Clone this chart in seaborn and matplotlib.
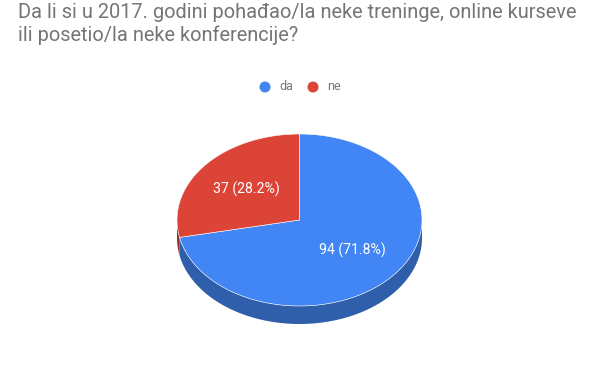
import numpy as np
import matplotlib
matplotlib.use("Agg")
import matplotlib.pyplot as plt
import seaborn as sns
from matplotlib.patches import Polygon, Circle

# Data
categories = ["da", "ne"]
counts = [94, 37]
title = "Da li si u 2017. godini pohađao/la neke treninge, online kurseve\nili posetio/la neke konferencije?"

top_colors = ["#4285f4", "#db4437"]
side_colors = ["#2f5eab", "#9c2f24"]

sns.set_theme(style="white")
plt.rcParams["font.family"] = ["Roboto", "DejaVu Sans"]

fig = plt.figure(figsize=(6, 3.71), dpi=100)
ax = fig.add_axes([0, 0, 1, 1])
ax.set_xlim(0, 600)
ax.set_ylim(371, 0)
ax.axis("off")

# pie geometry (pixels)
cx, cy = 299.5, 220
rx, ry = 122.5, 86
depth = 18

total = sum(counts)
fracs = np.array(counts) / total
bounds = np.concatenate([[0], np.cumsum(fracs) * 360])


def edge(a0, a1, n=200):
    t = np.radians(np.linspace(a0, a1, n))
    return cx + rx * np.sin(t), cy - ry * np.cos(t)


# sides (front half only: 90..270 deg clockwise from top)
for i in range(len(counts)):
    a0 = max(bounds[i], 90)
    a1 = min(bounds[i + 1], 270)
    if a1 <= a0:
        continue
    x, y = edge(a0, a1)
    pts = np.column_stack([np.concatenate([x, x[::-1]]),
                           np.concatenate([y, y[::-1] + depth])])
    ax.add_patch(Polygon(pts, closed=True, fc=side_colors[i], ec="none"))

# top faces
for i in range(len(counts)):
    x, y = edge(bounds[i], bounds[i + 1])
    pts = np.column_stack([np.concatenate([[cx], x]), np.concatenate([[cy], y])])
    ax.add_patch(Polygon(pts, closed=True, fc=top_colors[i], ec="white", lw=0.4))

    mid = np.radians((bounds[i] + bounds[i + 1]) / 2)
    lx = cx + 0.56 * rx * np.sin(mid)
    ly = cy - 0.56 * ry * np.cos(mid)
    ax.text(lx, ly, f"{counts[i]} ({fracs[i] * 100:.1f}%)", color="white",
            fontsize=10.2, ha="center", va="center")

# title
ax.text(18, 41, title, fontsize=14.4, color="#757575", ha="left",
        va="baseline", linespacing=1.2)

# legend
ax.add_patch(Circle((265, 87), 5.5, fc=top_colors[0], ec="none"))
ax.text(279, 87, categories[0], fontsize=9, color="#757575", va="center")
ax.add_patch(Circle((313, 87), 5.5, fc=top_colors[1], ec="none"))
ax.text(327, 87, categories[1], fontsize=9, color="#757575", va="center")

fig.savefig("out.png", dpi=100, facecolor="white")
